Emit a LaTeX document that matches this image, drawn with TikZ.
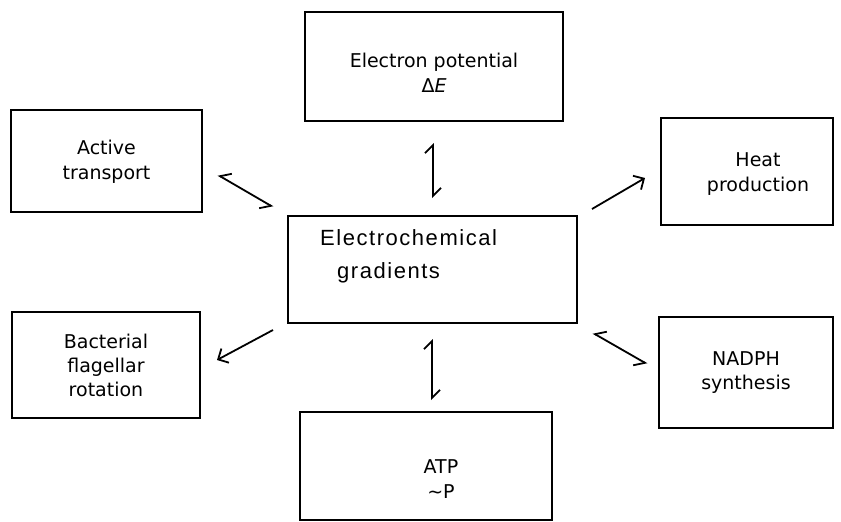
\documentclass[tikz,border=0pt]{standalone}
\usepackage{fontspec}
\setmainfont{DejaVu Sans}
\newfontfamily\cfont{Liberation Sans}[LetterSpace=7]
\usetikzlibrary{arrows.meta}
\tikzset{
  box/.style={draw, line width=2pt, rectangle, align=center, inner sep=0pt,
              font=\fontsize{19}{24}\selectfont},
  btext/.style={align=center, inner sep=0pt, font=\fontsize{19}{25}\selectfont},
  ctext/.style={anchor=base west, inner sep=0pt, font=\cfont\fontsize{22}{26}\selectfont},
  conn/.style={line width=1.8pt},
  eqv/.style={conn, {Straight Barb[left,length=8pt,width=16pt]}-{Straight Barb[left,length=8pt,width=16pt]}},
  eqd/.style={conn, {Straight Barb[right,length=9pt,width=16pt]}-{Straight Barb[right,length=9pt,width=16pt]}},
  fwd/.style={conn, -{Straight Barb[length=8pt,width=16pt]}}
}
\begin{document}
\begin{tikzpicture}[x=1pt,y=-1pt]
\useasboundingbox (0,0) rectangle (841,522);
% boxes
\node[box, minimum width=258pt, minimum height=109pt] (ep) at (434,66.5) {};
\node[btext] (ept) at (434,73) {Electron potential\\ Δ\textit{E}};
\node[box, minimum width=191pt, minimum height=102pt] (at) at (106.5,161) {};
\node[btext] (att) at (106.5,162) {Active\\ transport};
\node[box, minimum width=188pt, minimum height=106pt] (bf) at (106,365) {Bacterial\\ flagellar\\ rotation};
\node[box, minimum width=172pt, minimum height=107pt] (hp) at (747,171.5) {};
\node[btext] (hpt) at (758,174) {Heat\\ production};
\node[box, minimum width=174pt, minimum height=111pt] (ns) at (746,372.5) {NADPH\\ synthesis};
\node[box, minimum width=289pt, minimum height=107pt] (eg) at (432.5,269.5) {};
\node[box, minimum width=252pt, minimum height=108pt] (atp) at (426,466) {};
\node[btext] (atpt) at (441,479) {ATP\\ ∼P};
\node[ctext] (eg1) at (320,245) {Electrochemical};
\node[ctext] (eg2) at (337,278) {gradients};
% connector end points
\coordinate (t1) at (433,143); \coordinate (t2) at (433,198);
\coordinate (b1) at (432,339); \coordinate (b2) at (432,400);
\coordinate (a1) at (218,175); \coordinate (a2) at (273,207);
\coordinate (f1) at (273,330); \coordinate (f2) at (217,360);
\coordinate (h1) at (592,209); \coordinate (h2) at (645,178);
\coordinate (n1) at (593,333); \coordinate (n2) at (647,364);
\draw[eqv] (t1) -- (t2);
\draw[eqv] (b1) -- (b2);
\draw[eqd] (a1) -- (a2);
\draw[eqd] (n1) -- (n2);
\draw[fwd] (f1) -- (f2);
\draw[fwd] (h1) -- (h2);
\end{tikzpicture}
\end{document}
